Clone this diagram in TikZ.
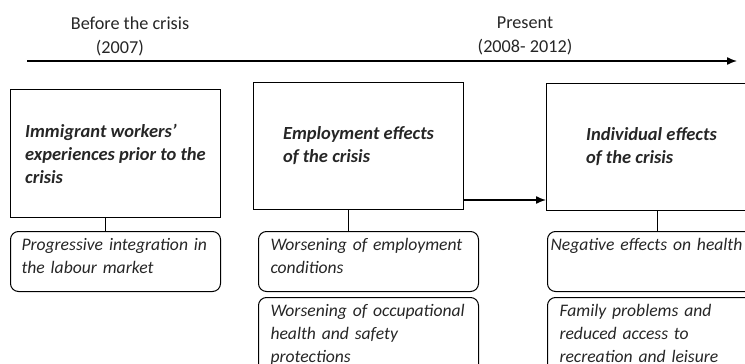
\documentclass[tikz,border=0pt]{standalone}
\usepackage{fontspec}
\setmainfont{Carlito}
\usepackage{xcolor}
\usepackage{tikz}
\usetikzlibrary{arrows.meta,positioning}
\hyphenpenalty=10000

\begin{document}
\begin{tikzpicture}[
    x=1pt, y=-1pt,
    every node/.style={text=black!85},
    period/.style={font=\fontsize{18.2}{24}\selectfont},
    bigbox/.style={rectangle, draw, line width=1pt, anchor=north west, minimum width=210pt, minimum height=127pt, align=left, font=\fontsize{18.5}{23}\selectfont\bfseries\itshape},
    detail/.style={rectangle, rounded corners=8pt, draw, line width=1pt, anchor=north west, text width=196pt, inner xsep=12pt, inner ysep=0pt, text height=19pt, text depth=41pt, align=left, font=\fontsize{17.6}{23}\selectfont\itshape},
    tall/.style={text depth=58pt},
    arrow/.style={-{Latex[length=10pt,width=8pt]}, line width=1.4pt},
    link/.style={line width=1pt}
]
    \useasboundingbox (0,0) rectangle (745,364);
    \clip (0,0) rectangle (745,364);

    % time line
    \node[period, align=left] (before) at (130,36) {Before the crisis\\\hspace*{25pt}(2007)};
    \node[period, align=center] (present) at (525,36) {Present\\(2008- 2012)};
    \coordinate (tstart) at (27,61);
    \coordinate (tend) at (737,61);
    \draw[arrow] (tstart) -- (tend);

    % main boxes
    \node[bigbox, minimum height=128pt] (prior) at (10,89) {Immigrant workers'\\experiences prior to the\\crisis};
    \node[bigbox] (empl) at (253,82) {Employment effects\\of the crisis};
    \node[bigbox] (indiv) at (546,83) {Individual effects\\of the crisis};

    % detail boxes
    \node[detail, text width=188pt, inner xsep=11pt] (integ) at (10,231) {Progressive integration in\\the labour market};
    \node[detail] (cond) at (258,231) {Worsening of employment\\conditions};
    \node[detail, tall] (safety) at (258,297) {Worsening of occupational\\health and safety\\protections};
    \node[detail, inner xsep=3pt, text width=213pt] (health) at (547,231) {Negative effects on health};
    \node[detail, tall] (family) at (547,297) {Family problems and\\reduced access to\\recreation and leisure};

    \draw[link] ([xshift=-10pt]prior.south) -- ([xshift=-10pt]prior.south |- integ.north);
    \draw[link] ([xshift=-10pt]empl.south) -- ([xshift=-10pt]empl.south |- cond.north);
    \draw[link] ([xshift=6pt]indiv.south) -- ([xshift=6pt]indiv.south |- health.north);
    \draw[arrow] ([yshift=10pt]empl.south east) -- ([yshift=11pt]indiv.south west);
\end{tikzpicture}
\end{document}
